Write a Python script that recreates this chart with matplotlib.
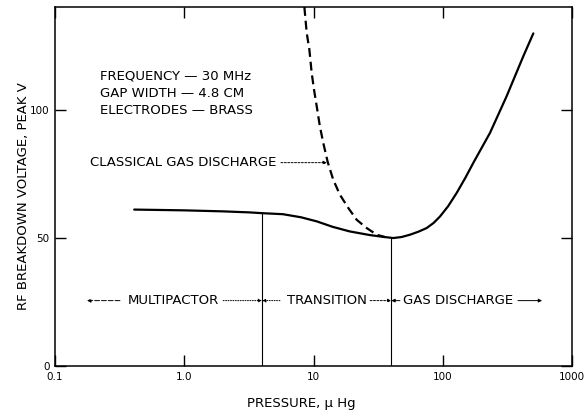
import numpy as np
import matplotlib
matplotlib.use("Agg")
import matplotlib.pyplot as plt

# breakdown voltage vs pressure (measured curve)
pressure = [0.41, 1.0, 2.0, 3.2, 4.0, 5.8, 8.0, 10.6, 14.0, 19.0, 27.0, 34.0,
            41.4, 48.0, 55.8, 65.0, 75.1, 85.0, 95.2, 110.0, 128.2, 150.0,
            172.3, 232.0, 312.0, 420.0, 502.0]
voltage = [61.0, 60.7, 60.3, 59.9, 59.6, 59.2, 58.0, 56.4, 54.3, 52.5, 51.1, 50.4,
           49.9, 50.3, 51.2, 52.4, 53.8, 55.8, 58.3, 62.3, 67.5, 73.5,
           79.2, 90.9, 105.2, 120.8, 129.7]

# classical gas discharge (dashed)
classical_pressure = [8.5, 8.86, 9.29, 9.68, 10.09, 10.59, 11.2, 11.9, 12.9,
                      14.2, 16.0, 18.6, 21.6, 25.8, 30.8, 35.7]
classical_voltage = [140.0, 129.9, 123.4, 114.3, 107.8, 101.3, 93.5, 87.0, 79.4,
                     72.7, 66.8, 61.6, 57.0, 53.8, 51.2, 50.3]

# region boundaries, µ Hg
boundaries = [4.0, 40.0]

x_ticks = [0.1, 1.0, 10, 100, 1000]
x_tick_labels = ["0.1", "1.0", "10", "100", "1000"]
y_ticks = [0, 50, 100]

conditions = ["FREQUENCY \u2014 30 MHz", "GAP WIDTH \u2014 4.8 CM", "ELECTRODES \u2014 BRASS"]

plt.rcParams["font.family"] = ["DejaVu Sans"]
fs = 9.5

fig = plt.figure(figsize=(5.87, 4.12), dpi=100)
ax = fig.add_axes([55 / 587, 46 / 412, 517 / 587, 359 / 412])
ax.set_xscale("log")
ax.set_xlim(0.1, 1000)
ax.set_ylim(0, 140)

ax.plot(pressure, voltage, color="black", lw=1.6, solid_capstyle="round",
        solid_joinstyle="round")
ax.plot(classical_pressure, classical_voltage, color="black", lw=1.6,
        dashes=(4, 2.2))

log_p = np.log10(pressure)
for b in boundaries:
    top = np.interp(np.log10(b), log_p, voltage)
    ax.plot([b, b], [0, top], color="black", lw=0.8)

ax.set_xticks(x_ticks)
ax.set_xticklabels(x_tick_labels)
ax.set_yticks(y_ticks)
ax.minorticks_off()
ax.tick_params(direction="in", length=8, width=1, top=True, right=True,
               labelsize=7.5, pad=4)
for side in ax.spines.values():
    side.set_linewidth(1.1)

for i, line in enumerate(conditions):
    ax.text(0.223, 112.9 - 6.64 * i, line, va="center", ha="left", fontsize=fs)

ax.text(0.187, 79.3, "CLASSICAL GAS DISCHARGE", va="center", ha="left", fontsize=fs)
ax.annotate("", xy=(12.7, 79.3), xytext=(5.6, 79.3),
            arrowprops=dict(arrowstyle="-|>", lw=0.7, ls=(0, (2, 1.5)),
                            color="black", mutation_scale=5, shrinkA=0, shrinkB=0))

# region labels
yr = 25.5
arrow = dict(arrowstyle="-|>", lw=0.7, color="black", mutation_scale=5,
             shrinkA=0, shrinkB=0)
ax.annotate("", xy=(0.177, yr), xytext=(0.318, yr),
            arrowprops=dict(arrow, ls=(0, (5, 2))))
ax.text(0.818, yr, "MULTIPACTOR", va="center", ha="center", fontsize=fs)
ax.annotate("", xy=(boundaries[0], yr), xytext=(2.0, yr),
            arrowprops=dict(arrow, ls=(0, (1, 1.5))))
ax.annotate("", xy=(boundaries[0], yr), xytext=(5.5, yr),
            arrowprops=dict(arrow, ls=(0, (1, 1.5))))
ax.text(12.6, yr, "TRANSITION", va="center", ha="center", fontsize=fs)
ax.annotate("", xy=(boundaries[1], yr), xytext=(27.4, yr),
            arrowprops=dict(arrow, ls=(0, (2, 1.5))))
ax.annotate("", xy=(boundaries[1], yr), xytext=(46.6, yr), arrowprops=arrow)
ax.text(131, yr, "GAS DISCHARGE", va="center", ha="center", fontsize=fs)
ax.annotate("", xy=(587, yr), xytext=(382, yr), arrowprops=arrow)

fig.text(24 / 587, 1 - 196 / 412, "RF BREAKDOWN VOLTAGE, PEAK V", rotation=90,
         ha="center", va="center", fontsize=fs)
fig.text(301 / 587, 1 - 403 / 412, "PRESSURE, \u03bc Hg", ha="center", va="center",
         fontsize=fs)

fig.savefig("out.png", dpi=100)
